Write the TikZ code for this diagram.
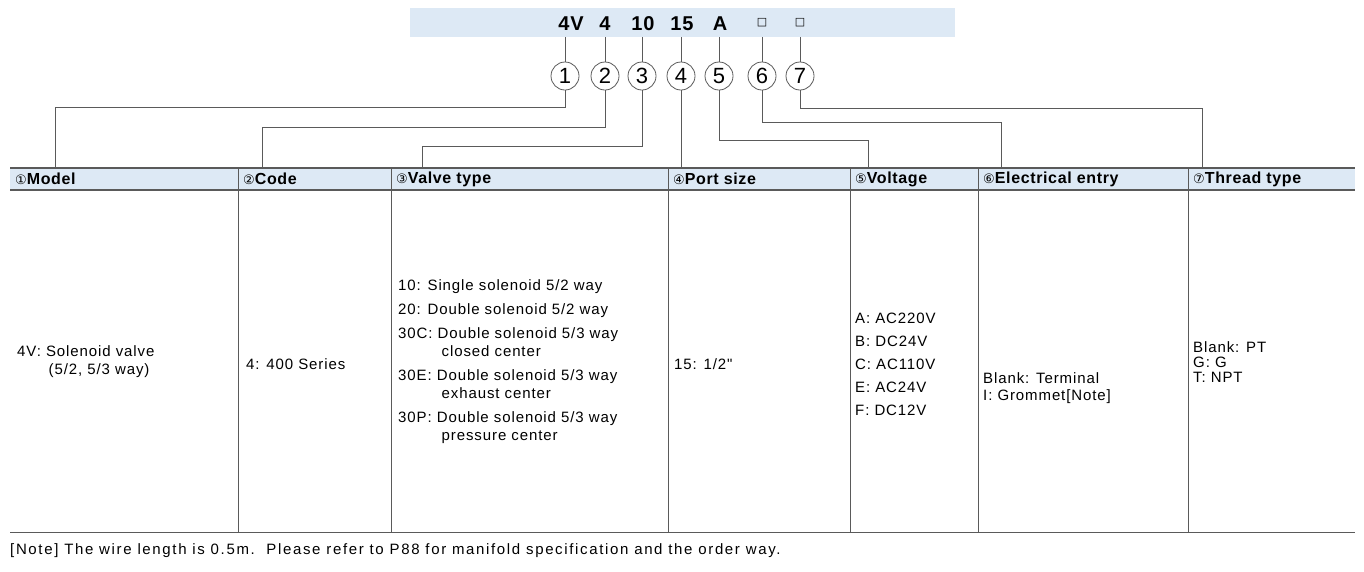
\documentclass[tikz,border=0pt]{standalone}
\usepackage{fontspec}
\setmainfont{Liberation Sans}
\newfontfamily\djv{DejaVu Sans}
\newfontfamily\myspc[LetterSpace=6]{Liberation Sans}
\newfontfamily\myspb[LetterSpace=4]{Liberation Sans Bold}
\newfontfamily\myspn[LetterSpace=11]{Liberation Sans}
\definecolor{hdr}{RGB}{221,233,245}
\definecolor{ln}{RGB}{90,90,90}
\begin{document}
\begin{tikzpicture}[x=1pt,y=-1pt,
  lead/.style={draw=ln,line width=0.8pt},
  circ/.style={circle,draw=ln,line width=0.8pt,minimum size=28pt,inner sep=0pt,font=\fontsize{22}{22}\selectfont},
  code/.style={font=\myspb\fontsize{20}{20}\selectfont,inner sep=0pt},
  hd/.style={anchor=west,font=\myspb\fontsize{16}{16}\selectfont,inner sep=0pt},
  cell/.style={anchor=west,align=left,font=\myspc\fontsize{15}{18}\selectfont,inner sep=0pt}]
\useasboundingbox (0,0) rectangle (1364,571);
\fill[hdr] (410,8) rectangle (955,37);
\foreach \n/\x/\t in {a/571/4V,b/605/4,c/643/10,d/682/15,e/720/A}
  \node[code] (t\n) at (\x,24) {\t};
\node[font=\djv\fontsize{11}{11}\selectfont,inner sep=0pt] (tf) at (762,23) {□};
\node[font=\djv\fontsize{11}{11}\selectfont,inner sep=0pt] (tg) at (800,23) {□};
\foreach \n/\x/\k in {a/565/1,b/605/2,c/642/3,d/681/4,e/719/5,f/762/6,g/800/7}{
  \node[circ] (c\n) at (\x,76) {\k};
  \coordinate (b\n) at (\x,37);
  \draw[lead] (b\n) -- (c\n.north);
}
% table
\fill[hdr] (10,168) rectangle (1355,190);
\draw[ln,line width=1.2pt] (10,168) -- (1355,168);
\draw[ln,line width=1.2pt] (10,190) -- (1355,190);
\draw[ln,line width=1pt] (10,532) -- (1355,532);
\foreach \x in {238,391,668,850,978,1188} \draw[ln,line width=0.8pt] (\x,168) -- (\x,532);
\foreach \n/\x in {a/55,b/262,c/422,d/681,e/868,f/1001,g/1202} \coordinate (h\n) at (\x,168);
\draw[lead] (ca.south) |- (55,107) -- (ha);
\draw[lead] (cb.south) |- (262,127) -- (hb);
\draw[lead] (cc.south) |- (422,146) -- (hc);
\draw[lead] (cd.south) -- (hd);
\draw[lead] (ce.south) |- (868,140) -- (he);
\draw[lead] (cf.south) |- (1001,122) -- (hf);
\draw[lead] (cg.south) |- (1202,108) -- (hg);
\newcommand{\cn}[1]{{\djv\fontsize{13}{13}\selectfont #1}}
\node[hd] (h1) at (15,179) {\cn{①}Model};
\node[hd] (h2) at (243,179) {\cn{②}Code};
\node[hd] (h3) at (396,179) {\cn{③}Valve type};
\node[hd] (h4) at (673,179) {\cn{④}Port size};
\node[hd] (h5) at (855,179) {\cn{⑤}Voltage};
\node[hd] (h6) at (983,179) {\cn{⑥}Electrical entry};
\node[hd] (h7) at (1193,179) {\cn{⑦}Thread type};
\node[cell] (v1) at (17,362) {4V: Solenoid valve\\\hspace{2.1em}(5/2, 5/3 way)};
\node[cell] (v2) at (246,364) {4: 400 Series};
\node[cell] (v3) at (398,362) {10: Single solenoid 5/2 way\\[6pt]20: Double solenoid 5/2 way\\[6pt]30C: Double solenoid 5/3 way\\\hspace{2.9em}closed center\\[6pt]30E: Double solenoid 5/3 way\\\hspace{2.9em}exhaust center\\[6pt]30P: Double solenoid 5/3 way\\\hspace{2.9em}pressure center};
\node[cell] (v4) at (674,364) {15: 1/2"};
\node[cell,font=\myspc\fontsize{15}{23}\selectfont] (v5) at (855,364) {A: AC220V\\B: DC24V\\C: AC110V\\E: AC24V\\F: DC12V};
\node[cell,font=\myspc\fontsize{15}{17}\selectfont] (v6) at (983,388) {Blank: Terminal\\I: Grommet[Note]};
\node[cell,font=\myspc\fontsize{15}{15}\selectfont] (v7) at (1193,362) {Blank: PT\\G: G\\T: NPT};
\node[anchor=west,inner sep=0pt,font=\myspn\fontsize{15}{15}\selectfont] (note) at (10,551) {[Note] The wire length is 0.5m.\ \ Please refer to P88 for manifold specification and the order way.};
\end{tikzpicture}
\end{document}
